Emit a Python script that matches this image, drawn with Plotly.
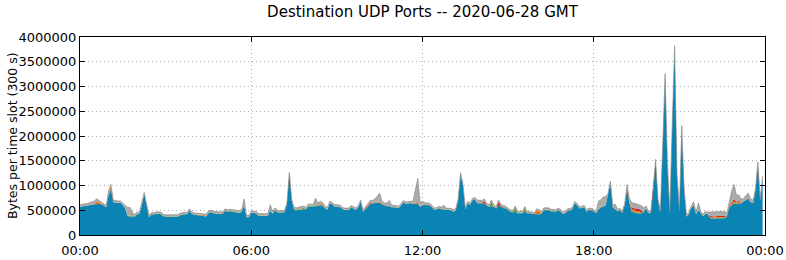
import pandas as pd
import plotly.graph_objects as go

# values in thousands of bytes per 5-minute slot, 12 slots per hour row
BLUE = [
    570, 575, 580, 590, 600, 610, 620, 630, 625, 620, 600, 555,
    800, 920, 660, 650, 650, 650, 600, 540, 380, 380, 375, 370,
    420, 430, 600, 830, 600, 360, 410, 420, 420, 430, 420, 380,
    370, 370, 365, 365, 370, 370, 400, 415, 420, 420, 490, 430,
    405, 405, 400, 400, 395, 375, 440, 465, 440, 425, 425, 425,
    430, 490, 470, 480, 470, 470, 450, 445, 470, 600, 360, 357,
    450, 450, 440, 390, 385, 380, 385, 390, 500, 430, 510, 450,
    450, 455, 460, 620, 1250, 700, 510, 500, 510, 520, 520, 520,
    570, 570, 575, 575, 580, 600, 600, 540, 510, 640, 620, 572,
    572, 570, 540, 505, 505, 505, 560, 540, 505, 560, 670, 470,
    520, 590, 620, 640, 640, 650, 650, 620, 600, 580, 580, 560,
    560, 550, 545, 600, 660, 630, 640, 640, 630, 640, 640, 572,
    600, 606, 606, 600, 560, 505, 520, 540, 520, 520, 505, 505,
    500, 470, 500, 700, 1220, 1000, 520, 640, 610, 700, 720, 640,
    640, 640, 630, 600, 572, 580, 570, 540, 585, 580, 540, 540,
    500, 470, 460, 470, 440, 437, 440, 470, 437, 437, 430, 410,
    417, 420, 430, 500, 500, 500, 480, 470, 470, 500, 480, 425,
    440, 490, 495, 520, 640, 600, 540, 540, 560, 470, 505, 500,
    480, 437, 520, 560, 570, 600, 800, 1050, 560, 520, 480, 500,
    450, 600, 920, 650, 470, 460, 440, 440, 440, 460, 540, 437,
    450, 900, 1480, 700, 450, 1800, 3200, 1400, 440, 2200, 3750, 1200,
    480, 2150, 900, 370, 420, 550, 600, 420, 500, 440, 380, 430,
    420, 340, 330, 330, 340, 340, 330, 340, 380, 560, 600, 640,
    620, 640, 640, 680, 700, 740, 660, 640, 900, 1430, 700, 1150,
]

GREEN = [
    3, 3, 3, 3, 3, 3, 3, 3, 3, 3, 3, 3,
    3, 3, 3, 3, 3, 3, 3, 3, 3, 3, 30, 3,
    3, 3, 3, 3, 3, 3, 3, 3, 3, 3, 3, 3,
    3, 3, 3, 3, 3, 3, 3, 3, 3, 3, 3, 3,
    3, 3, 3, 3, 3, 3, 3, 3, 3, 3, 3, 3,
    3, 3, 3, 3, 3, 3, 3, 3, 3, 3, 3, 3,
    3, 3, 3, 3, 3, 3, 3, 3, 3, 3, 3, 20,
    3, 3, 3, 3, 3, 3, 3, 3, 3, 3, 30, 3,
    20, 20, 3, 3, 3, 3, 3, 3, 3, 3, 3, 3,
    3, 3, 3, 3, 3, 3, 3, 3, 3, 3, 3, 3,
    3, 3, 3, 3, 3, 3, 3, 3, 3, 3, 3, 3,
    3, 3, 3, 3, 3, 3, 3, 3, 3, 3, 3, 3,
    3, 3, 3, 3, 3, 3, 3, 3, 3, 3, 3, 3,
    3, 3, 3, 3, 3, 3, 3, 3, 3, 3, 3, 3,
    3, 3, 3, 3, 3, 90, 3, 3, 3, 3, 3, 3,
    3, 3, 3, 80, 3, 3, 3, 70, 3, 3, 3, 3,
    3, 3, 3, 3, 3, 3, 3, 3, 3, 3, 3, 3,
    3, 3, 3, 3, 3, 3, 3, 3, 3, 3, 3, 3,
    3, 3, 3, 3, 3, 3, 3, 3, 3, 3, 3, 3,
    3, 3, 10, 3, 10, 10, 10, 10, 10, 3, 3, 3,
    3, 3, 3, 3, 3, 3, 3, 3, 3, 3, 3, 3,
    3, 3, 3, 3, 3, 3, 3, 3, 3, 3, 3, 3,
    3, 10, 10, 10, 10, 10, 10, 10, 3, 3, 10, 10,
    10, 10, 3, 3, 3, 3, 3, 3, 3, 3, 3, 3,
]

ORANGE = [
    5, 5, 5, 5, 5, 5, 10, 40, 35, 10, 5, 5,
    40, 60, 10, 5, 5, 5, 5, 5, 5, 5, 5, 5,
    5, 5, 5, 5, 5, 5, 5, 5, 5, 5, 5, 5,
    5, 5, 5, 5, 5, 5, 5, 5, 5, 5, 5, 5,
    5, 5, 5, 5, 5, 5, 5, 5, 5, 5, 5, 5,
    5, 5, 5, 5, 5, 5, 5, 5, 5, 5, 5, 5,
    5, 5, 5, 5, 5, 5, 5, 5, 5, 5, 5, 5,
    5, 5, 5, 5, 5, 5, 5, 5, 5, 5, 5, 5,
    5, 5, 5, 5, 5, 40, 10, 5, 5, 5, 5, 5,
    5, 5, 5, 5, 5, 5, 5, 5, 5, 5, 5, 5,
    5, 5, 5, 5, 5, 5, 30, 10, 5, 5, 5, 5,
    5, 5, 5, 5, 5, 5, 5, 5, 5, 10, 30, 10,
    10, 10, 10, 10, 5, 5, 5, 5, 5, 5, 5, 5,
    5, 5, 5, 5, 5, 5, 5, 5, 5, 5, 5, 5,
    5, 5, 5, 5, 5, 5, 5, 5, 5, 5, 20, 10,
    5, 5, 5, 5, 5, 5, 5, 5, 5, 5, 5, 5,
    80, 60, 5, 5, 5, 5, 5, 5, 5, 5, 5, 5,
    5, 5, 5, 5, 5, 5, 5, 5, 5, 5, 5, 5,
    5, 5, 5, 5, 5, 5, 5, 5, 5, 5, 5, 5,
    5, 5, 30, 40, 40, 40, 30, 30, 5, 5, 5, 5,
    5, 5, 15, 5, 5, 10, 20, 10, 5, 10, 20, 10,
    5, 15, 5, 5, 5, 5, 20, 5, 5, 5, 5, 5,
    5, 15, 15, 15, 15, 15, 15, 15, 10, 10, 20, 30,
    20, 20, 10, 10, 10, 10, 10, 10, 5, 10, 5, 10,
]

RED = [
    0, 0, 0, 0, 0, 0, 0, 0, 0, 0, 0, 0,
    0, 0, 0, 0, 0, 0, 0, 0, 0, 0, 0, 0,
    0, 0, 0, 0, 0, 0, 0, 0, 0, 0, 0, 0,
    0, 0, 0, 0, 0, 0, 0, 0, 0, 0, 0, 0,
    0, 0, 0, 0, 0, 0, 0, 0, 0, 0, 0, 0,
    0, 0, 0, 0, 0, 0, 0, 0, 0, 0, 0, 0,
    0, 0, 0, 0, 0, 0, 0, 0, 0, 0, 0, 0,
    0, 0, 0, 0, 0, 0, 0, 0, 0, 0, 0, 0,
    0, 0, 0, 0, 0, 0, 0, 0, 0, 0, 0, 0,
    0, 0, 0, 0, 0, 0, 0, 0, 0, 0, 0, 0,
    0, 0, 30, 0, 0, 0, 0, 0, 0, 0, 0, 0,
    0, 0, 0, 0, 0, 0, 0, 0, 0, 0, 0, 0,
    0, 0, 0, 0, 0, 0, 0, 0, 0, 0, 0, 0,
    0, 0, 0, 0, 0, 0, 0, 0, 0, 0, 0, 0,
    0, 0, 50, 0, 0, 0, 0, 0, 80, 0, 0, 0,
    0, 0, 0, 0, 0, 0, 0, 0, 0, 0, 0, 0,
    0, 0, 0, 0, 0, 0, 0, 0, 0, 0, 0, 0,
    0, 0, 0, 0, 0, 0, 0, 0, 0, 0, 0, 0,
    0, 0, 0, 0, 0, 0, 0, 0, 0, 0, 0, 0,
    0, 0, 30, 0, 40, 30, 50, 50, 40, 0, 0, 0,
    0, 0, 0, 0, 0, 0, 0, 0, 0, 0, 0, 0,
    0, 0, 0, 0, 0, 0, 0, 0, 0, 0, 0, 0,
    0, 20, 20, 20, 20, 20, 20, 20, 0, 20, 30, 40,
    20, 20, 0, 0, 0, 0, 0, 0, 0, 0, 0, 0,
]

GRAY = [
    35, 35, 35, 40, 45, 45, 50, 60, 40, 40, 35, 35,
    40, 40, 30, 30, 30, 30, 30, 40, 170, 170, 50, 40,
    30, 30, 30, 20, 20, 30, 30, 30, 30, 30, 30, 30,
    30, 30, 30, 30, 30, 30, 30, 30, 30, 30, 30, 30,
    30, 30, 30, 30, 30, 35, 35, 30, 35, 35, 35, 35,
    30, 30, 30, 30, 30, 30, 30, 35, 40, 120, 30, 30,
    30, 30, 30, 35, 35, 35, 35, 40, 100, 40, 30, 30,
    30, 30, 30, 20, 10, 20, 40, 40, 40, 40, 30, 30,
    30, 30, 30, 160, 60, 40, 40, 40, 40, 30, 30, 34,
    30, 30, 30, 30, 30, 30, 30, 30, 30, 30, 30, 30,
    30, 30, 40, 50, 80, 120, 160, 50, 40, 60, 110, 40,
    30, 30, 30, 30, 30, 30, 30, 33, 40, 230, 470, 70,
    70, 30, 30, 30, 30, 30, 30, 30, 40, 70, 30, 30,
    30, 30, 30, 30, 30, 30, 30, 30, 30, 30, 30, 60,
    60, 50, 40, 30, 30, 30, 30, 30, 30, 30, 30, 30,
    30, 30, 30, 30, 30, 30, 30, 30, 30, 30, 30, 30,
    30, 30, 30, 40, 40, 40, 30, 30, 30, 30, 30, 30,
    30, 30, 30, 30, 30, 30, 30, 30, 30, 30, 30, 30,
    30, 30, 160, 140, 190, 170, 30, 30, 30, 100, 30, 30,
    30, 30, 30, 40, 90, 100, 100, 90, 100, 80, 40, 30,
    30, 30, 30, 30, 30, 30, 40, 30, 30, 30, 50, 30,
    30, 40, 30, 30, 30, 30, 50, 30, 140, 30, 30, 40,
    30, 80, 90, 90, 90, 90, 90, 90, 50, 70, 230, 300,
    130, 120, 70, 40, 90, 90, 50, 50, 30, 30, 30, 30,
]

TITLE = "Destination UDP Ports -- 2020-06-28 GMT"
YLABEL = "Bytes per time slot (300 s)"
XTICKS = ["00:00", "06:00", "12:00", "18:00", "00:00"]

times = pd.date_range("2020-06-28 00:00", periods=len(BLUE), freq="5min")
tickvals = pd.date_range("2020-06-28 00:00", periods=5, freq="6h")

layers = [
    ("blue", BLUE, "#0a84b4", 0, "#0a84b4"),
    ("green", GREEN, "#5c9e2e", 0, "#5c9e2e"),
    ("orange", ORANGE, "#e8740e", 0, "#e8740e"),
    ("red", RED, "#c8281e", 0, "#c8281e"),
    ("other", GRAY, "#ababab", 0.6, "#808080"),
]

fig = go.Figure()
for name, vals, fc, lw, lc in layers:
    fig.add_trace(go.Scatter(
        x=times, y=[v * 1000 for v in vals], name=name,
        stackgroup="one", mode="lines",
        line=dict(color=lc, width=lw),
        fillcolor=fc, showlegend=False,
    ))

axis_common = dict(
    showline=True, linecolor="black", linewidth=1, mirror="ticks",
    ticks="inside", ticklen=5, tickcolor="black", tickwidth=1,
    showgrid=True, gridcolor="#b0b0b0", griddash="1px,3px", gridwidth=1,
    zeroline=False, tickfont=dict(size=13, color="black"),
    automargin=False,
)

fig.update_xaxes(
    type="date",
    range=["2020-06-28 00:00", "2020-06-29 00:00"],
    tickvals=list(tickvals), ticktext=XTICKS,
    ticklabelstandoff=3,
    **axis_common,
)
fig.update_yaxes(
    range=[0, 4000000], dtick=500000, tick0=0, tickformat="d",
    **axis_common,
)

fig.update_layout(
    width=786, height=260,
    margin=dict(l=80, r=21, t=37, b=25),
    paper_bgcolor="white", plot_bgcolor="white",
    font=dict(family="DejaVu Sans", size=12, color="black"),
    title=dict(text=TITLE, x=0.5, xref="paper", xanchor="center",
               y=1 - 12 / 260, yref="container", yanchor="middle",
               font=dict(size=15, color="black")),
    annotations=[dict(
        text=YLABEL, textangle=-90, showarrow=False,
        xref="paper", yref="paper", x=(12 - 80) / 685, y=0.5,
        xanchor="center", yanchor="middle",
        font=dict(size=12.5, color="black"),
    )],
)

fig.write_html("out.html")
